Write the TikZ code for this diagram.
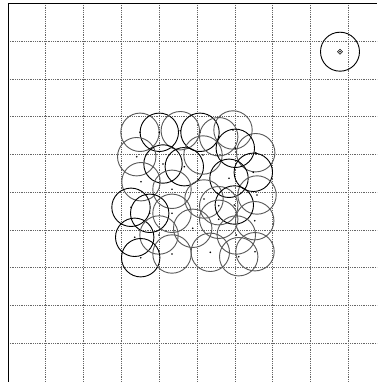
\documentclass[tikz,border=0pt]{standalone}
\usetikzlibrary{calc}
\begin{document}
\begin{tikzpicture}[x=1pt,y=-1pt,
  gridline/.style={densely dotted,gray!80!black,line width=0.8pt},
  rimline/.style={black,line width=0.8pt},
  cblack/.style={black,line width=0.9pt},
  cgray/.style={black!65,line width=0.9pt},
  ctr/.style={fill=black}]
\useasboundingbox (0,0) rectangle (377,382);
\fill[white] (0,0) rectangle (377,382);
% grid
\foreach \k in {1,...,9}{
  \draw[gridline] ({8+37.84*\k},3) -- ({8+37.84*\k},382);
  \draw[gridline] (8,{3.5+37.75*\k}) -- (377,{3.5+37.75*\k});
}
% border
\draw[rimline] (8,382) -- (8,3) -- (377,3);
% cluster of circles
\foreach \x/\y/\s [count=\i] in {
 140/132.3/cgray, 159.3/132.3/cblack, 180.3/130.7/cgray, 200/132.3/cblack,
 218.7/136.7/cgray, 233/130/cgray, 255.7/152.7/cgray, 235.3/148.3/cblack,
 136.7/156.7/cgray, 163/164/cblack, 184.3/166.7/cblack, 203/155/cgray,
 229/178.3/cblack, 253.3/172.3/cblack, 141/181.7/cgray, 172/189.3/cgray,
 204/199/cgray, 257/195/cgray, 131/207.3/cblack, 149.7/213.3/cblack,
 172/213.3/cgray, 218.7/205.7/cgray, 234.3/205/cblack, 218.7/219.3/cgray,
 254.7/220.7/cgray, 192.7/228.3/cgray, 134.7/237.3/cblack, 159/235/cgray,
 236.3/235/cgray, 140.7/257.7/cblack, 172/254/cgray, 210.3/252.3/cgray,
 238.7/256.7/cgray, 255/251.7/cgray}{
  \draw[\s] (\x,\y) circle[radius=19.2];
  \fill[ctr] (\x,\y) circle[radius=0.9];
}
% isolated circle top right
\coordinate (iso) at (340,51.7);
\draw[cblack] (iso) circle[radius=19.5];
\draw[black,line width=0.6pt] ($(iso)+(0,-2.5)$) -- ($(iso)+(2.5,0)$) -- ($(iso)+(0,2.5)$) -- ($(iso)+(-2.5,0)$) -- cycle;
\fill[ctr] (iso) circle[radius=0.9];
\end{tikzpicture}
\end{document}
